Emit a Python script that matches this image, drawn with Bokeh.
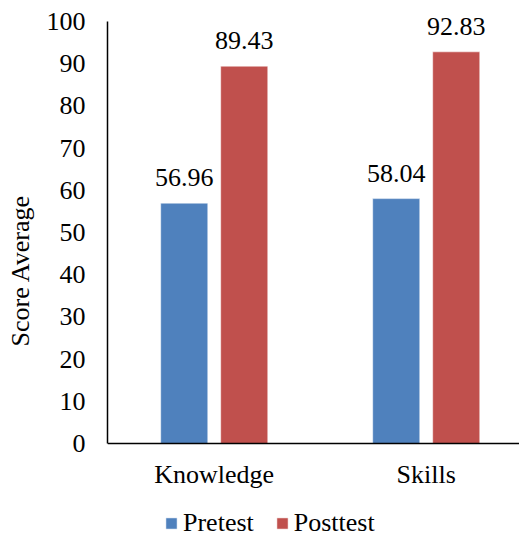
from bokeh.plotting import figure
from bokeh.models import (ColumnDataSource, Range1d, SingleIntervalTicker,
                          LabelSet, Legend, LegendItem, Span)
from bokeh.embed import file_html
from bokeh.resources import INLINE

categories = ["Knowledge", "Skills"]
pretest = [56.96, 58.04]
posttest = [89.43, 92.83]
series_names = ["Pretest", "Posttest"]
colors = ["#4F81BD", "#C0504D"]

FONT = "Liberation Serif"
FS = "26px"

centers = [i + 0.5 for i in range(len(categories))]
off = 0.1415
bw = 0.222

p = figure(width=519, height=540, output_backend="svg", toolbar_location=None,
           x_axis_location=None,
           x_range=Range1d(-0.0035, 1.94), y_range=Range1d(-23, 105),
           min_border_left=107, min_border_top=0, min_border_right=0, min_border_bottom=0)
p.outline_line_color = None
for g in p.grid:
    g.visible = False

renderers = []
for vals, dx, col, name in [(pretest, -off, colors[0], series_names[0]),
                            (posttest, off, colors[1], series_names[1])]:
    src = ColumnDataSource(dict(x=[c + dx for c in centers], top=vals,
                                lab=["%.2f" % v for v in vals]))
    r = p.vbar(x="x", top="top", width=bw, bottom=0, source=src,
               fill_color=col, line_color="#ffffff", line_alpha=0.5, line_width=1)
    renderers.append((name, r))
    p.add_layout(LabelSet(x="x", y="top", text="lab", source=src, y_offset=17,
                          text_align="center", text_baseline="alphabetic",
                          text_font=FONT, text_font_size=FS, text_color="black"))

# category axis: baseline + labels
p.add_layout(Span(location=0, dimension="width", line_color="black", line_width=1.5))
cat_src = ColumnDataSource(dict(x=centers, y=[0] * len(categories), t=categories))
p.add_layout(LabelSet(x="x", y="y", text="t", source=cat_src, y_offset=-40,
                      text_align="center", text_baseline="alphabetic",
                      text_font=FONT, text_font_size=FS, text_color="black"))

# y axis
ya = p.yaxis[0]
ya.bounds = (0, 100)
ya.ticker = SingleIntervalTicker(interval=10)
ya.major_tick_line_color = None
ya.minor_tick_line_color = None
ya.axis_line_color = "black"
ya.axis_line_width = 1.5
ya.major_label_text_font = FONT
ya.major_label_text_font_size = FS
ya.major_label_text_color = "black"
ya.major_label_standoff = 16
ya.axis_label = "Score Average"
ya.axis_label_text_font = FONT
ya.axis_label_text_font_size = FS
ya.axis_label_text_font_style = "normal"
ya.axis_label_text_color = "black"
ya.axis_label_standoff = 9

legend = Legend(items=[LegendItem(label=n, renderers=[r]) for n, r in renderers],
                orientation="horizontal", location=(57, 2),
                label_text_font=FONT, label_text_font_size=FS, label_text_color="black",
                glyph_width=14, glyph_height=14, label_standoff=5, spacing=21,
                padding=0, margin=0, border_line_color=None, background_fill_alpha=0,
                label_height=14)
p.add_layout(legend, "center")

open("out.html", "w").write(file_html(p, INLINE))
